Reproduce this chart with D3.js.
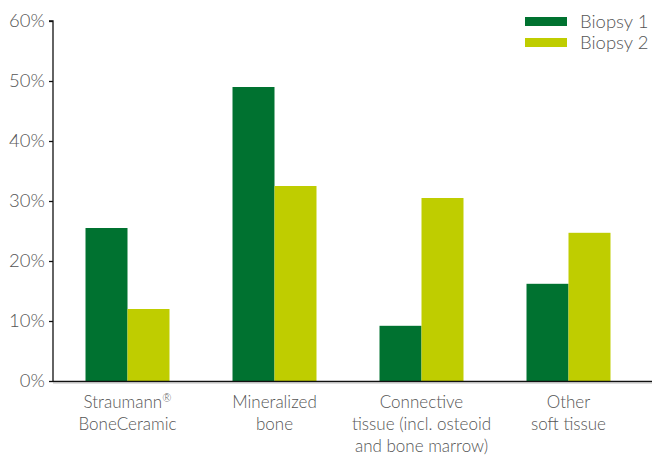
<!DOCTYPE html>
<html>
<head>
<meta charset="utf-8">
<script src="https://cdn.jsdelivr.net/npm/d3@7"></script>
<style>
  body { margin:0; background:#fff; }
  text { font-family: Lato, "Open Sans", sans-serif; font-weight:300; fill:#555; }
</style>
</head>
<body>
<div id="chart-area"></div>
<script>
/* Data */
var categories = ["Straumann® BoneCeramic", "Mineralized bone", "Connective tissue", "Other soft tissue"];
var categoryLines = [
  ["Straumann", "BoneCeramic"],
  ["Mineralized", "bone"],
  ["Connective", "tissue (incl. osteoid", "and bone marrow)"],
  ["Other", "soft tissue"]
];
var seriesNames = ["Biopsy 1", "Biopsy 2"];
var biopsy1 = [25.5, 49, 9.2, 16.2];
var biopsy2 = [12, 32.5, 30.5, 24.7];
var yTicks = [0, 10, 20, 30, 40, 50, 60];
var colors = ["#007230", "#bfcd00"];

var width = 652, height = 455;
var plotLeft = 54, plotRight = 642, plotTop = 21, plotBottom = 381;

var svg = d3.select("#chart-area").append("svg")
  .attr("width", width)
  .attr("height", height);

// scales
var x = d3.scaleBand()
  .domain(categories)
  .range([plotLeft, plotRight])
  .paddingInner(0.4286)
  .paddingOuter(0.2143);
var x1 = d3.scaleBand()
  .domain(seriesNames)
  .range([0, x.bandwidth()]);
var y = d3.scaleLinear()
  .domain([0, 60])
  .range([plotBottom, plotTop]);

// bars
var rows = categories.map(function(c, i){
  return { cat: c, vals: [biopsy1[i], biopsy2[i]] };
});
var groups = svg.selectAll("g.group").data(rows).enter()
  .append("g")
    .attr("class", "group")
    .attr("transform", function(d){ return "translate(" + x(d.cat) + ",0)"; });
groups.selectAll("rect")
  .data(function(d){ return d.vals.map(function(v, j){ return { s: seriesNames[j], v: v, j: j }; }); })
  .enter().append("rect")
    .attr("x", function(d){ return x1(d.s); })
    .attr("y", function(d){ return y(d.v); })
    .attr("width", x1.bandwidth())
    .attr("height", function(d){ return plotBottom - y(d.v); })
    .attr("fill", function(d){ return colors[d.j]; });

// y axis
var yAxis = svg.append("g")
  .attr("transform", "translate(" + (plotLeft - 1) + ",0)")
  .call(d3.axisLeft(y).tickValues(yTicks).tickSize(4).tickPadding(4)
    .tickFormat(function(d){ return d + "%"; }));
yAxis.selectAll("text").attr("font-size", "18.5px").attr("font-family", null);
yAxis.selectAll("line, path").attr("stroke", "#111").attr("stroke-width", 1.3);
yAxis.select("path").attr("d", "M-4," + plotTop + "H0V" + plotBottom);

// x axis line
svg.append("line")
  .attr("x1", plotLeft - 1).attr("x2", width)
  .attr("y1", plotBottom + 0.5).attr("y2", plotBottom + 0.5)
  .attr("stroke", "#111").attr("stroke-width", 1.6);
svg.append("line")
  .attr("x1", plotLeft - 1).attr("x2", width)
  .attr("y1", plotBottom + 2).attr("y2", plotBottom + 2)
  .attr("stroke", "#bbb").attr("stroke-width", 1);

// category labels
categoryLines.forEach(function(lines, i){
  var cx = x(categories[i]) + x.bandwidth() / 2;
  var t = svg.append("text")
    .attr("text-anchor", "middle")
    .attr("font-size", "17px");
  lines.forEach(function(line, k){
    var ts = t.append("tspan")
      .attr("x", cx)
      .attr("y", 408 + k * 22)
      .text(line);
    if (i === 0 && k === 0) {
      // registered mark as a small superscript
      ts.append("tspan").attr("font-size", "11px").attr("dy", -6).text("®");
    }
  });
});

// legend
var legend = svg.selectAll("g.legend").data(seriesNames).enter()
  .append("g")
    .attr("class", "legend")
    .attr("transform", function(d, i){ return "translate(525," + (17 + i * 21) + ")"; });
legend.append("rect")
  .attr("width", 42).attr("height", 9)
  .attr("fill", function(d, i){ return colors[i]; });
legend.append("text")
  .attr("x", 55).attr("y", 11)
  .attr("font-size", "18.5px")
  .text(function(d){ return d; });
</script>
</body>
</html>
